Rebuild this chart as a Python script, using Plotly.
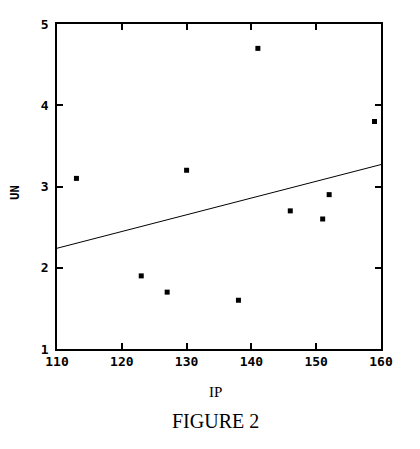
import plotly.graph_objects as go

ip = [113, 123, 127, 130, 138, 141, 146, 151, 152, 159]
un = [3.1, 1.9, 1.7, 3.2, 1.6, 4.7, 2.7, 2.6, 2.9, 3.8]
fit_x = [110, 160]
fit_y = [2.24, 3.27]
x_ticks = [110, 120, 130, 140, 150, 160]
y_ticks = [1, 2, 3, 4, 5]

fig = go.Figure()
fig.add_trace(go.Scatter(x=fit_x, y=fit_y, mode="lines",
                         line=dict(color="black", width=1), showlegend=False))
fig.add_trace(go.Scatter(x=ip, y=un, mode="markers",
                         marker=dict(symbol="square", size=5, color="black"),
                         showlegend=False))

tickfont = dict(family="DejaVu Sans Mono", size=13, color="black", weight="bold")
axis_common = dict(ticks="inside", ticklen=6, tickwidth=1.5, tickcolor="black",
                   showline=True, linecolor="black", linewidth=1.5, mirror="ticks",
                   showgrid=False, zeroline=False, tickfont=tickfont, automargin=False)
fig.update_layout(
    width=412, height=441,
    margin=dict(l=49, r=39, t=16, b=100),
    paper_bgcolor="white", plot_bgcolor="white",
    xaxis=dict(range=[110, 160], tickvals=x_ticks, **axis_common),
    yaxis=dict(range=[1, 5], tickvals=y_ticks, ticklabelstandoff=4, **axis_common),
    annotations=[
        dict(text="UN", xref="paper", yref="paper", x=-0.132, y=0.4815,
             xanchor="center", yanchor="middle", textangle=-90, showarrow=False,
             font=dict(family="DejaVu Sans Mono", size=12, color="black", weight="bold")),
        dict(text="IP", xref="paper", yref="paper", x=0.488, y=-0.131,
             xanchor="center", yanchor="middle", showarrow=False,
             font=dict(family="Liberation Serif", size=15, color="black")),
        dict(text="FIGURE 2", xref="paper", yref="paper", x=0.489, y=-0.22,
             xanchor="center", yanchor="middle", showarrow=False,
             font=dict(family="Liberation Serif", size=20, color="black")),
    ],
)
fig.write_html("out.html")
